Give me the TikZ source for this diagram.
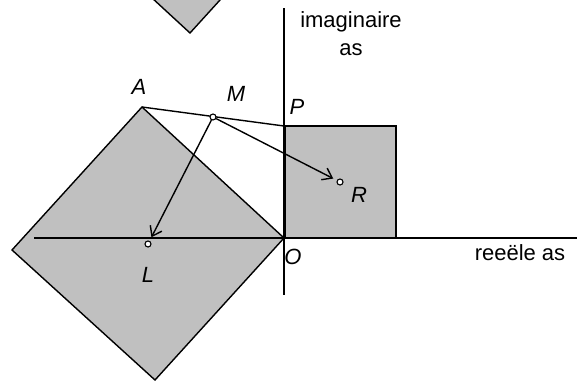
\documentclass[tikz,border=0pt]{standalone}
\usepackage{fontspec}
\setmainfont{Liberation Sans}
\usetikzlibrary{arrows.meta}
\begin{document}
\begin{tikzpicture}[x=1pt,y=-1pt,
  greyshape/.style={fill=shade,draw=black,line width=1.4pt,line join=miter},
  axisline/.style={line width=1.4pt},
  conn/.style={line width=1.4pt},
  dot/.style={circle,draw=black,fill=white,line width=1.1pt,inner sep=0pt,minimum size=6pt},
  lbl/.style={font=\fontsize{22}{26}\selectfont\itshape,inner sep=0pt},
  txt/.style={font=\fontsize{22}{28}\selectfont,inner sep=0pt,align=center},
  arr/.style={conn,-{Straight Barb[length=9pt,width=13pt,line width=1.4pt]},shorten >=4pt}]
\definecolor{shade}{RGB}{192,192,192}
\useasboundingbox (0,0) rectangle (577,381);
\begin{scope}
\clip (0,0) rectangle (577,381);
% top diamond (partly visible)
\filldraw[greyshape] (190,33) -- (255,-38.5) -- (184,-104) -- (119,-32.5) -- cycle;
\end{scope}
% points
\coordinate (A) at (142,107);
\coordinate (O) at (284,238);
\coordinate (P) at (284,126);
\coordinate (Bt) at (155,380);
\coordinate (Lf) at (12,250);
\coordinate (Q) at (396,126);
\coordinate (S) at (396,238);
% big diamond
\filldraw[greyshape] (A) -- (O) -- (Bt) -- (Lf) -- cycle;
% square
\filldraw[greyshape] (O) -- (P) -- (Q) -- (S) -- cycle;
% axes
\coordinate (xs) at (34,238);
\coordinate (xe) at (577,238);
\coordinate (ys) at (284,8);
\coordinate (ye) at (284,295);
\draw[axisline] (xs) -- (xe);
\draw[axisline] (ys) -- (ye);
\draw[line width=3pt] (P) -- (O);
% line A-P
\draw[conn] (A) -- (P);
% points
\node[dot] (M) at (213,117) {};
\node[dot] (L) at (148,244) {};
\node[dot] (R) at (340,182) {};
\draw[arr] (M) -- (L);
\draw[arr] (M) -- (R);
% labels
\node[lbl] (tA) at (139,87) {A};
\node[lbl] (tM) at (236,94) {M};
\node[lbl] (tP) at (297,107) {P};
\node[lbl] (tR) at (359,195) {R};
\node[lbl] (tO) at (293,257) {O};
\node[lbl] (tL) at (148,275) {L};
\node[txt] (im) at (351,34) {imaginaire\\as};
\node[txt,anchor=base] (re) at (520,260) {reeële as};
\end{tikzpicture}
\end{document}
